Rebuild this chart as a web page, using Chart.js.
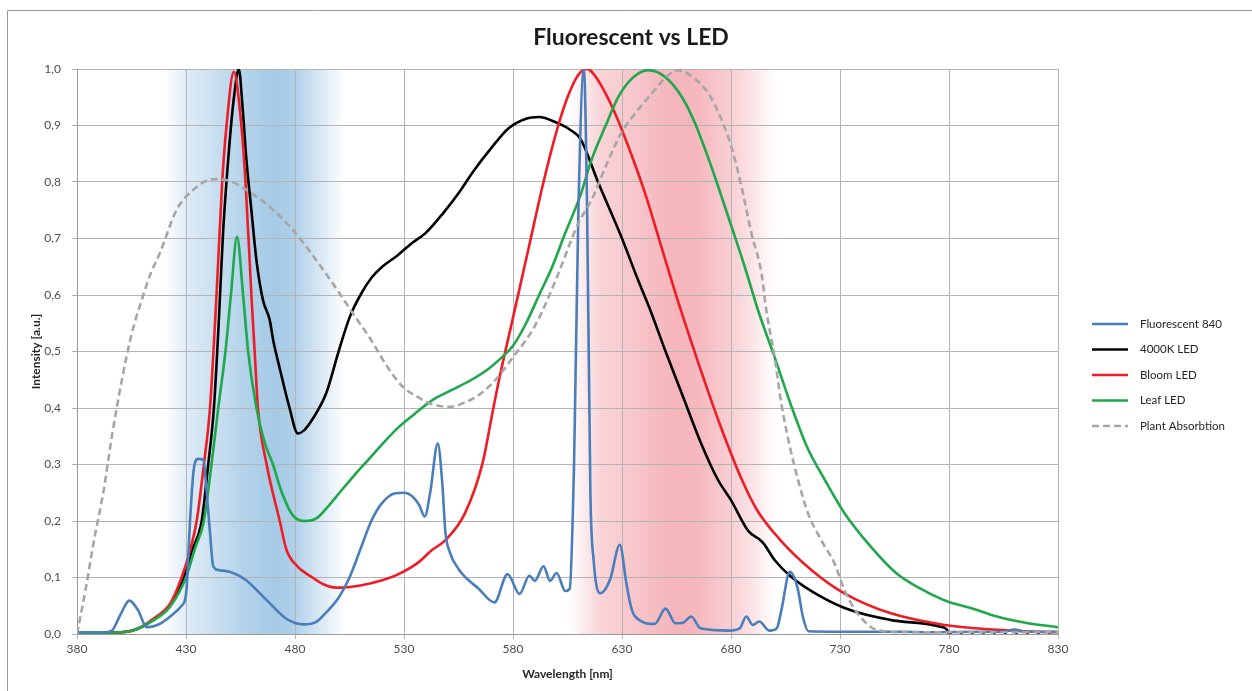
<!DOCTYPE html>
<html>
<head>
<meta charset="utf-8">
<title>Fluorescent vs LED</title>
<script src="https://cdn.jsdelivr.net/npm/chart.js@4.4.1/dist/chart.umd.min.js"></script>
<style>
  html, body { margin: 0; padding: 0; background: #fff; }
  #wrap { width: 1252px; height: 691px; }
</style>
</head>
<body>
<div id="wrap"><canvas id="myChart" width="1252" height="691"></canvas></div>
<script>
const chartTitle = "Fluorescent vs LED";
const xTicks = [380, 430, 480, 530, 580, 630, 680, 730, 780, 830];
const yTicks = [0, 0.1, 0.2, 0.3, 0.4, 0.5, 0.6, 0.7, 0.8, 0.9, 1.0];
const yTickLabels = ['0,0', '0,1', '0,2', '0,3', '0,4', '0,5', '0,6', '0,7', '0,8', '0,9', '1,0'];

const seriesNames = ['Fluorescent 840', '4000K LED', 'Bloom LED', 'Leaf LED', 'Plant Absorbtion'];

// Fluorescent 840
const flNm = [380, 392, 396, 400, 404, 408, 412, 418, 424, 428, 430, 432, 433.5, 435.5, 438, 439.5, 441, 442.5, 445, 450,
  457, 467, 476, 484, 490, 494, 500, 505, 510, 515, 520, 526, 530, 534, 537, 539.5, 542, 545.5, 547.5, 549,
  551, 555, 558, 564, 571.5, 577.5, 583, 587.5, 590, 594, 597, 600, 604, 606, 608, 610, 612.5, 614, 615.5, 617,
  620, 624.5, 629, 632, 634, 636, 645, 650, 654.5, 658, 661.7, 666, 679, 684, 687, 690, 693, 697.5, 701, 703,
  707, 710.5, 713, 715.5, 740, 760, 770, 790, 805, 810, 815, 830];
const flVal = [0.003, 0.003, 0.006, 0.035, 0.059, 0.042, 0.012, 0.018, 0.035, 0.05, 0.07, 0.21, 0.29, 0.31, 0.308, 0.25, 0.18, 0.12, 0.113, 0.11,
  0.097, 0.06, 0.027, 0.017, 0.022, 0.037, 0.064, 0.1, 0.15, 0.2, 0.232, 0.249, 0.25, 0.243, 0.228, 0.208, 0.25, 0.337, 0.27, 0.18,
  0.145, 0.115, 0.101, 0.081, 0.056, 0.106, 0.071, 0.103, 0.094, 0.12, 0.094, 0.108, 0.076, 0.08, 0.3, 0.75, 1.0, 0.75, 0.25, 0.13,
  0.072, 0.096, 0.158, 0.09, 0.05, 0.031, 0.018, 0.045, 0.019, 0.02, 0.031, 0.01, 0.006, 0.01, 0.031, 0.016, 0.022, 0.006, 0.01, 0.04,
  0.11, 0.082, 0.03, 0.005, 0.004, 0.004, 0.003, 0.004, 0.004, 0.008, 0.004, 0.004];

// 4000K LED
const ledNm = [380, 400, 407, 415, 422.6, 429, 433, 437.2, 440.2, 442.8, 445, 447, 450, 452, 454.2, 456, 457.7, 460, 462.3, 465.3,
  468.4, 470, 473, 477.5, 481.3, 484, 488, 494.3, 500, 505, 510, 515, 520, 527, 533, 540, 548, 555, 562, 570,
  578, 586, 592, 600, 606, 611, 619, 630, 637, 643, 650, 658, 666, 674, 680, 688, 692.5, 695, 700, 707.7,
  720, 735, 753, 776, 779, 780, 830];
const ledVal = [0.002, 0.003, 0.008, 0.025, 0.05, 0.1, 0.15, 0.2, 0.3, 0.4, 0.55, 0.71, 0.87, 0.95, 1.0, 0.93, 0.84, 0.75, 0.662, 0.591,
  0.556, 0.52, 0.47, 0.4, 0.355, 0.36, 0.38, 0.426, 0.5, 0.56, 0.6, 0.63, 0.65, 0.67, 0.69, 0.71, 0.745, 0.78, 0.82, 0.86,
  0.895, 0.912, 0.915, 0.905, 0.893, 0.876, 0.8, 0.7, 0.63, 0.573, 0.5, 0.42, 0.34, 0.273, 0.237, 0.182, 0.169, 0.16, 0.131, 0.101,
  0.069, 0.042, 0.025, 0.013, 0.008, 0, 0];

// Bloom LED
const bloomNm = [380, 400, 407, 415, 422.6, 428, 432, 434.9, 438.2, 441, 444, 446.6, 448.6, 451.9, 455.4, 457.3, 460, 461.5, 463, 467,
  473, 476, 481, 488, 493, 499, 510, 520, 528, 536, 543, 549, 558, 566, 570.5, 573.6, 580, 587, 594, 600,
  605, 610, 614, 619, 627, 633, 640.6, 648, 656, 665, 675, 685, 692, 702, 717, 732, 753, 778, 800, 820, 830];
const bloomVal = [0.002, 0.003, 0.008, 0.027, 0.053, 0.1, 0.15, 0.2, 0.3, 0.4, 0.6, 0.8, 0.9, 0.995, 0.9, 0.8, 0.6, 0.5, 0.4, 0.3,
  0.2, 0.15, 0.12, 0.1, 0.088, 0.082, 0.086, 0.095, 0.107, 0.125, 0.149, 0.166, 0.214, 0.302, 0.39, 0.45, 0.56, 0.68, 0.8, 0.89,
  0.95, 0.99, 1.0, 0.98, 0.92, 0.862, 0.78, 0.686, 0.585, 0.48, 0.37, 0.273, 0.219, 0.169, 0.113, 0.072, 0.037, 0.016, 0.008, 0.004, 0.003];

// Leaf LED
const leafNm = [380, 400, 407, 415, 422.6, 430, 434, 438.2, 441.7, 444.8, 448.1, 450.6, 453.4, 456.2, 458.5, 462.3, 466, 469.9, 474, 479,
  485, 490, 495, 500.4, 507, 514, 521, 527.8, 535, 543, 552, 561, 569, 575, 580, 586, 592, 598, 604, 610.7,
  616, 622.3, 628.4, 634.5, 642, 649.8, 657.4, 663.5, 671, 678.7, 686.3, 692.4, 700, 708, 715, 723, 732, 744, 756, 768,
  779, 790, 802, 815, 830];
const leafVal = [0.002, 0.003, 0.008, 0.024, 0.048, 0.1, 0.15, 0.2, 0.3, 0.4, 0.5, 0.6, 0.703, 0.6, 0.5, 0.4, 0.34, 0.3, 0.25, 0.21,
  0.2, 0.205, 0.225, 0.25, 0.28, 0.31, 0.34, 0.367, 0.39, 0.414, 0.432, 0.45, 0.47, 0.49, 0.51, 0.55, 0.6, 0.65, 0.71, 0.774,
  0.839, 0.898, 0.951, 0.983, 0.998, 0.986, 0.951, 0.904, 0.827, 0.739, 0.65, 0.573, 0.49, 0.4, 0.33, 0.273, 0.214, 0.155, 0.107, 0.078,
  0.058, 0.046, 0.031, 0.02, 0.012];

// Plant Absorbtion
const plantNm = [380, 384, 388, 392, 396, 400.6, 405, 410, 414, 418, 425.6, 433.3, 442.5, 450, 457.7, 468.4, 479, 489.7, 500.4, 506.4,
  515, 522, 529.3, 536, 542, 550.8, 558, 565, 572, 580, 590, 600, 606, 610, 616, 623.8, 630, 636, 645, 650,
  656, 662, 669.6, 675.7, 680.2, 684.8, 689.4, 694, 696.2, 700, 703, 706.5, 710.8, 715.3, 721.4, 727.5, 732, 738, 747, 760, 830];
const plantVal = [0, 0.08, 0.17, 0.249, 0.35, 0.45, 0.53, 0.595, 0.64, 0.674, 0.75, 0.786, 0.805, 0.802, 0.786, 0.756, 0.715, 0.662, 0.603, 0.568,
  0.52, 0.475, 0.438, 0.42, 0.408, 0.402, 0.41, 0.425, 0.45, 0.49, 0.545, 0.63, 0.69, 0.727, 0.768, 0.839, 0.889, 0.921, 0.963, 0.985,
  0.998, 0.987, 0.957, 0.91, 0.862, 0.792, 0.709, 0.638, 0.573, 0.49, 0.41, 0.34, 0.272, 0.214, 0.166, 0.125, 0.078, 0.037, 0.007, 0.003, 0.003];

// shaded bands (blue and red light)
const blueBandNm = [420, 430, 455, 470, 480, 490, 503];
const blueBandAlpha = [0, 0.22, 0.5, 0.62, 0.55, 0.3, 0];
const redBandNm = [606, 620, 640, 655, 665, 680, 690, 700];
const redBandAlpha = [0, 0.27, 0.38, 0.47, 0.44, 0.3, 0.17, 0];

const toPts = (xs, ys) => xs.map((x, i) => ({x: x, y: ys[i]}));

function drawBand(chart, nms, alphas, rgb) {
  const {ctx, chartArea, scales} = chart;
  const first = nms[0], last = nms[nms.length - 1];
  const x0 = scales.x.getPixelForValue(first);
  const x1 = scales.x.getPixelForValue(last);
  const g = ctx.createLinearGradient(x0, 0, x1, 0);
  nms.forEach((nm, i) => {
    g.addColorStop((nm - first) / (last - first), 'rgba(' + rgb + ',' + alphas[i] + ')');
  });
  ctx.fillStyle = g;
  ctx.fillRect(x0, chartArea.top, x1 - x0, chartArea.bottom - chartArea.top);
}

const backdrop = {
  id: 'backdrop',
  beforeDraw(chart) {
    const ctx = chart.ctx;
    ctx.save();
    ctx.fillStyle = '#fff';
    ctx.fillRect(0, 0, chart.width, chart.height);
    // outer frame
    ctx.strokeStyle = '#999';
    ctx.lineWidth = 1;
    ctx.beginPath();
    ctx.moveTo(7.5, chart.height);
    ctx.lineTo(7.5, 10.5);
    ctx.lineTo(chart.width, 10.5);
    ctx.stroke();
    drawBand(chart, blueBandNm, blueBandAlpha, '110,170,215');
    drawBand(chart, redBandNm, redBandAlpha, '232,95,108');
    ctx.restore();
  }
};

// title centred on the whole picture, legend at the right
const overlay = {
  id: 'overlay',
  afterDraw(chart) {
    const ctx = chart.ctx;
    ctx.save();
    ctx.font = 'bold 23px Lato';
    ctx.fillStyle = '#1a1a1a';
    ctx.textAlign = 'center';
    ctx.textBaseline = 'middle';
    ctx.fillText(chartTitle, 631, 38);

    ctx.textAlign = 'left';
    ctx.font = '11.5px Lato';
    ctx.fillStyle = '#262626';
    chart.data.datasets.forEach((ds, i) => {
      const y = 324 + i * 25.5;
      ctx.beginPath();
      ctx.strokeStyle = ds.borderColor;
      ctx.lineWidth = 2.6;
      ctx.setLineDash(ds.borderDash || []);
      ctx.moveTo(1092, y);
      ctx.lineTo(1128, y);
      ctx.stroke();
      ctx.setLineDash([]);
      ctx.fillText(ds.label, 1140, y);
    });
    ctx.restore();
  }
};

const colors = ['#4a7ebb', '#000000', '#ee1c25', '#1ea84b', '#a6a6a6'];
const xs = [flNm, ledNm, bloomNm, leafNm, plantNm];
const ys = [flVal, ledVal, bloomVal, leafVal, plantVal];
const drawOrder = [1, 4, 3, 2, 0];

const data = {
  datasets: seriesNames.map((name, i) => ({
    label: name,
    data: toPts(xs[i], ys[i]),
    borderColor: colors[i],
    backgroundColor: colors[i],
    borderWidth: 2.6,
    borderDash: i === 4 ? [7, 4] : [],
    // the 4000K curve runs on as a dotted line along zero after 780 nm
    segment: i === 1 ? {borderDash: (c) => (c.p0.parsed.x >= 780 ? [3, 8] : undefined)} : undefined,
    pointRadius: 0,
    cubicInterpolationMode: 'monotone',
    order: drawOrder[i]
  }))
};

const gridColor = '#b4b4b4';
const tickFont = {family: 'Lato', size: 12};
const axisTitleFont = {family: 'Lato', size: 12, weight: 'bold'};

const config = {
  type: 'line',
  data: data,
  options: {
    responsive: false,
    animation: false,
    devicePixelRatio: 1,
    layout: {padding: {top: 69, left: 22, right: 194, bottom: 6}},
    scales: {
      x: {
        type: 'linear',
        min: 380,
        max: 830,
        afterBuildTicks: (axis) => { axis.ticks = xTicks.map(v => ({value: v})); },
        afterFit: (axis) => { axis.height = 51; },
        ticks: {font: tickFont, color: '#4d4d4d', padding: 3, maxRotation: 0, callback: (v) => String(v)},
        grid: {color: gridColor, tickLength: 5},
        border: {color: '#999'},
        title: {display: true, text: 'Wavelength [nm]', font: axisTitleFont, color: '#262626', padding: {top: 10, bottom: 4}}
      },
      y: {
        min: 0,
        max: 1,
        afterBuildTicks: (axis) => { axis.ticks = yTicks.map(v => ({value: v})); },
        afterFit: (axis) => { axis.width = 55; },
        ticks: {font: tickFont, color: '#4d4d4d', padding: 11, callback: (v) => yTickLabels[yTicks.findIndex(t => Math.abs(t - v) < 1e-6)]},
        grid: {color: gridColor, tickLength: 5},
        border: {color: '#999'},
        title: {display: true, text: 'Intensity [a.u.]', font: axisTitleFont, color: '#262626', padding: {top: 7, bottom: 1}}
      }
    },
    plugins: {
      title: {display: false},
      legend: {display: false},
      tooltip: {enabled: false}
    }
  },
  plugins: [backdrop, overlay]
};

const canvas = document.getElementById('myChart');
const myChart = new Chart(canvas, config);
</script>
</body>
</html>
